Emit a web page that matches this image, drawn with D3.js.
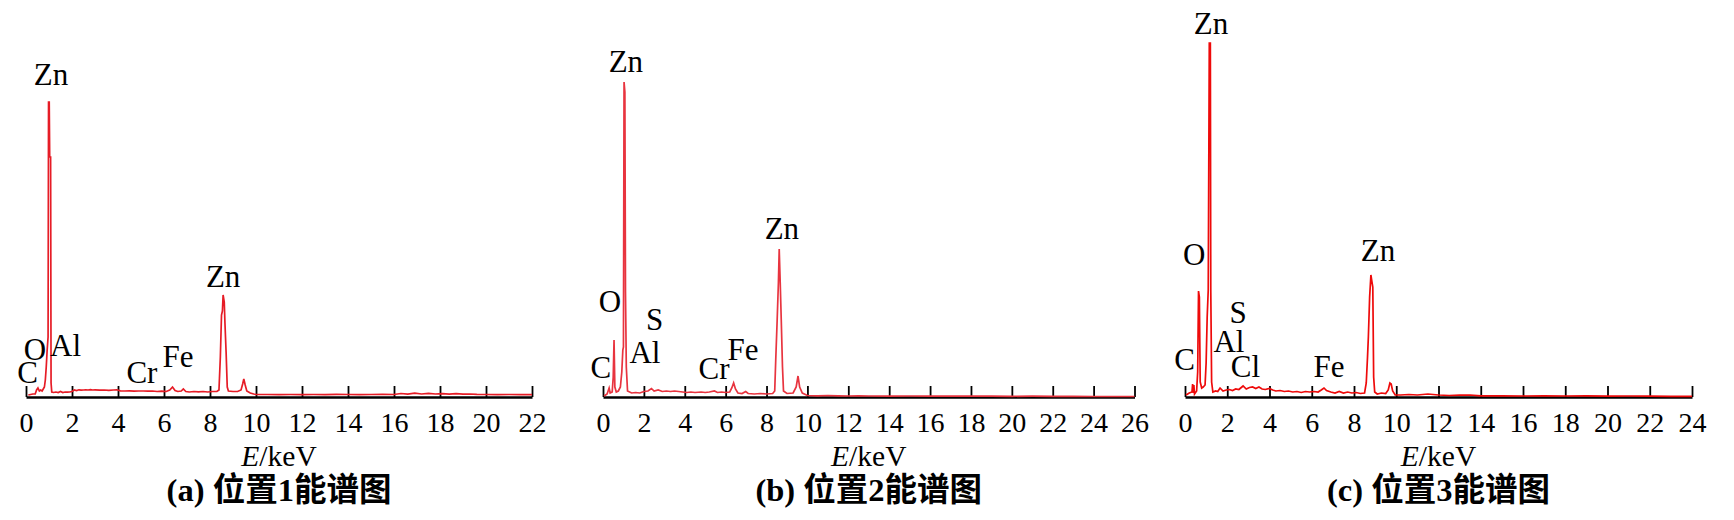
<!DOCTYPE html>
<html><head><meta charset="utf-8">
<script src="https://cdn.jsdelivr.net/npm/d3@7"></script>
<style>
html,body{margin:0;padding:0;background:#fff;}
svg{display:block}
</style></head><body>
<svg id="chart" width="1734" height="520"></svg>
<script>
// ---------- DATA (energy keV, counts) ----------
const spectrumA = [[0.10,20],[0.20,25],[0.30,30],[0.40,30],[0.46,70],[0.52,90],[0.58,60],[0.64,70],[0.70,60],[0.75,80],[0.80,100],[0.84,170],[0.88,300],[0.92,470],[0.96,600],[0.98,2950],[1.01,2950],[1.03,2400],[1.07,2400],[1.09,140],[1.12,50],[1.2,45],[1.3,50],[1.4,45],[1.5,55],[1.6,45],[1.7,50],[1.8,48],[1.9,50],[2.0,55],[2.1,70],[2.2,65],[2.3,72],[2.4,68],[2.5,70],[2.6,72],[2.7,70],[2.8,74],[2.9,70],[3.0,72],[3.2,68],[3.4,70],[3.6,66],[3.8,70],[3.95,72],[4.1,62],[4.3,60],[4.5,62],[4.7,58],[4.9,60],[5.1,60],[5.3,58],[5.5,60],[5.7,55],[5.9,58],[6.1,55],[6.25,70],[6.37,100],[6.48,65],[6.6,55],[6.75,60],[6.84,80],[6.95,55],[7.1,50],[7.3,55],[7.5,52],[7.7,55],[7.9,50],[8.1,55],[8.3,55],[8.39,70],[8.45,400],[8.5,820],[8.54,860],[8.57,1020],[8.62,950],[8.65,740],[8.7,450],[8.75,100],[8.8,60],[9.0,55],[9.2,55],[9.35,70],[9.42,130],[9.47,180],[9.53,120],[9.6,60],[9.75,40],[9.9,30],[10.0,25],[10.5,25],[11,24],[11.5,25],[12,24],[12.5,25],[13,24],[13.5,26],[14,25],[14.5,24],[15,25],[15.5,26],[16,25],[16.3,35],[16.6,28],[16.9,38],[17.2,30],[17.5,36],[17.8,30],[18.1,34],[18.4,28],[18.7,33],[19.0,28],[19.3,30],[19.6,26],[20,25],[20.5,24],[21,25],[21.5,24],[22,24]];

const spectrumB = [[0.05,10],[0.2,30],[0.3,90],[0.35,40],[0.45,50],[0.5,200],[0.54,570],[0.58,100],[0.65,50],[0.75,60],[0.85,100],[0.92,250],[0.97,470],[1.0,500],[1.03,3150],[1.07,3050],[1.1,1050],[1.14,300],[1.2,60],[1.4,40],[1.6,45],[1.8,40],[2.0,55],[2.2,60],[2.37,85],[2.5,60],[2.7,70],[2.9,55],[3.1,60],[3.3,55],[3.5,60],[3.7,55],[3.9,50],[4.1,45],[4.3,50],[4.5,45],[4.8,50],[5.0,45],[5.2,50],[5.45,60],[5.6,45],[5.8,50],[6.0,45],[6.2,50],[6.3,90],[6.39,140],[6.48,80],[6.6,40],[6.8,35],[6.98,55],[7.1,35],[7.4,30],[7.7,35],[8.0,30],[8.3,35],[8.4,60],[8.45,370],[8.52,770],[8.58,1140],[8.62,1480],[8.67,1140],[8.72,770],[8.78,300],[8.83,60],[9.0,35],[9.3,40],[9.45,100],[9.54,210],[9.62,100],[9.75,40],[10.0,15],[10.5,12],[11,15],[11.5,12],[12,10],[12.5,12],[13,10],[14,9],[15,10],[16,8],[17,9],[18,8],[19,8],[20,7],[21,8],[22,6],[23,6],[24,5],[25,5],[26,5]];

const spectrumC = [[0.05,20],[0.2,40],[0.33,50],[0.36,130],[0.39,40],[0.42,120],[0.45,30],[0.55,60],[0.6,250],[0.64,1060],[0.68,1000],[0.72,150],[0.79,90],[0.86,100],[0.95,120],[1.0,340],[1.05,800],[1.1,1070],[1.15,3540],[1.2,3540],[1.22,1070],[1.26,150],[1.32,50],[1.45,60],[1.55,55],[1.66,90],[1.8,60],[1.95,70],[2.1,75],[2.25,65],[2.4,80],[2.55,75],[2.75,110],[2.9,80],[3.05,95],[3.2,100],[3.35,85],[3.5,100],[3.65,80],[3.8,75],[4.0,85],[4.15,70],[4.3,60],[4.5,65],[4.7,55],[4.9,60],[5.1,50],[5.3,55],[5.5,45],[5.7,55],[5.9,50],[6.1,55],[6.3,50],[6.45,70],[6.58,90],[6.7,65],[6.9,50],[7.1,40],[7.3,55],[7.5,40],[7.7,50],[7.9,40],[8.1,45],[8.3,35],[8.5,40],[8.58,140],[8.64,400],[8.68,600],[8.74,1000],[8.8,1220],[8.85,1150],[8.89,1100],[8.93,200],[8.98,50],[9.1,30],[9.3,40],[9.5,35],[9.62,70],[9.7,140],[9.76,130],[9.83,60],[9.95,20],[10.2,20],[10.6,25],[11,20],[11.5,30],[12,20],[12.5,15],[13,18],[13.5,20],[14,12],[15,12],[16,10],[17,12],[18,10],[19,12],[20,8],[21,10],[22,8],[23,7],[24,6]];

// element labels: [text, energy position, count level]
const labelsA = [["Zn",1.09,3120],["Zn",8.57,1100],["O",0.39,370],["Al",1.72,410],["C",0.07,140],["Cr",5.04,140],["Fe",6.61,300]];
const labelsB = [["Zn",1.12,3250],["Zn",8.75,1580],["O",0.34,850],["S",2.52,670],["Al",2.05,340],["C",-0.1,190],["Cr",5.43,180],["Fe",6.85,370]];
const labelsC = [["Zn",1.23,3630],["Zn",9.14,1360],["O",0.43,1320],["S",2.51,740],["Al",2.08,450],["Cl",2.86,200],["C",-0.02,270],["Fe",6.82,200]];

const ticksA = [0,2,4,6,8,10,12,14,16,18,20,22];
const ticksB = [0,2,4,6,8,10,12,14,16,18,20,22,24,26];
const ticksC = [0,2,4,6,8,10,12,14,16,18,20,22,24];

const captionLetters = ["(a)","(b)","(c)"];
const captionNums = ["1","2","3"];
const axisTitle = ["E","/keV"];

// ---------- LAYOUT ----------
const panels = [
  {data:spectrumA, labels:labelsA, ticks:ticksA, domain:[0,22], x0:26, x1:532, base:397, color:"#e61c26"},
  {data:spectrumB, labels:labelsB, ticks:ticksB, domain:[0,26], x0:603, x1:1134.5, base:397, color:"#e8343f"},
  {data:spectrumC, labels:labelsC, ticks:ticksC, domain:[0,24], x0:1185, x1:1692, base:397, color:"#ee0a0a"}
];

const SERIF = "'Liberation Serif'";
const CJK = "'Noto Sans CJK SC'";
const svg = d3.select("#chart");

panels.forEach((p,i)=>{
  const x = d3.scaleLinear().domain(p.domain).range([p.x0,p.x1]);
  const y = d3.scaleLinear().domain([0,4000]).range([p.base,p.base-400]);
  const g = svg.append("g");

  // axis
  const ax = d3.axisBottom(x).tickValues(p.ticks).tickSizeInner(-11).tickSizeOuter(0).tickPadding(15).tickFormat(d3.format("d"));
  const axG = g.append("g").attr("transform",`translate(0,${p.base})`).call(ax);
  axG.attr("font-family",null).attr("font-size",null);
  axG.select(".domain").attr("stroke","#000").attr("stroke-width",2.6);
  axG.selectAll(".tick line").attr("stroke","#000").attr("stroke-width",1.8);
  axG.selectAll(".tick text").attr("dy",null).attr("y",34.5)
    .style("font-family",SERIF).style("font-size","28px").attr("fill","#000");

  // spectrum
  const line = d3.line().x(d=>x(d[0])).y(d=>y(d[1]));
  g.append("path").datum(p.data).attr("d",line).attr("fill","none")
    .attr("stroke",p.color).attr("stroke-width",1.7).attr("stroke-linejoin","miter");

  // element labels
  g.selectAll("text.el").data(p.labels).enter().append("text").attr("class","el")
    .attr("x",d=>x(d[1])).attr("y",d=>y(d[2]))
    .attr("text-anchor","middle").style("font-family",SERIF).style("font-size","31px")
    .attr("fill","#000").text(d=>d[0]);

  const cx = (p.x0+p.x1)/2;
  // axis title
  const t = g.append("text").attr("x",cx).attr("y",466).attr("text-anchor","middle")
    .style("font-family",SERIF).style("font-size","29.5px").attr("fill","#000");
  t.append("tspan").style("font-style","italic").text(axisTitle[0]);
  t.append("tspan").text(axisTitle[1]);

  // caption
  const c = g.append("text").attr("x",cx).attr("y",501).attr("text-anchor","middle")
    .style("font-family",SERIF).style("font-size","32.5px").attr("fill","#000");
  c.append("tspan").style("font-family",SERIF).style("font-weight","bold").text(captionLetters[i]+" ");
  c.append("tspan").style("font-family",CJK).style("font-weight","bold").text("位置");
  c.append("tspan").style("font-family",SERIF).style("font-weight","bold").text(captionNums[i]);
  c.append("tspan").style("font-family",CJK).style("font-weight","bold").text("能谱图");
});
</script>
</body></html>
